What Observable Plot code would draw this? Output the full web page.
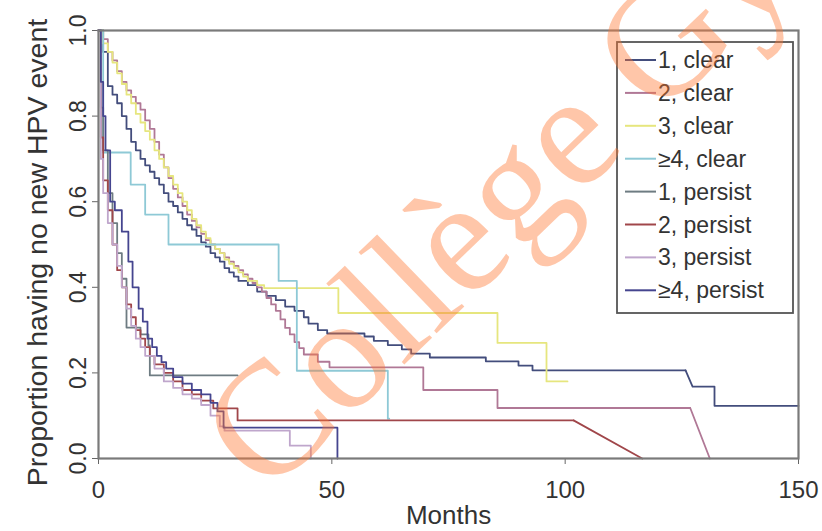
<!DOCTYPE html>
<html><head><meta charset="utf-8">
<script src="https://cdn.jsdelivr.net/npm/d3@7"></script>
<script src="https://cdn.jsdelivr.net/npm/@observablehq/plot@0.6"></script>
<style>html,body{margin:0;padding:0;background:#fff;overflow:hidden} svg{overflow:hidden;display:block}</style>
</head><body><div id="chart"></div>
<script>
// ---- data ----
const seriesNames = ["1, clear","2, clear","3, clear","≥4, clear","1, persist","2, persist","3, persist","≥4, persist"];
const seriesColors = ["#434d7c","#b07896","#e6e67e","#8ec9d6","#6e7c82","#a0464a","#bfa6cc","#45458f"];
const xTicks = [0,50,100,150];
const yTicks = [0,0.2,0.4,0.6,0.8,1.0];
const xTitle = "Months";
const yTitle = "Proportion having no new HPV event";
const watermark = "Collège Gy";

// step-after survival points [month, proportion]
const clear1 = [[0,1],[1,0.95],[2,0.87],[3,0.85],[4,0.83],[5,0.80],[6,0.77],[7,0.74],[8,0.72],[9,0.70],[10,0.685],[11,0.67],[12,0.655],[13,0.64],[14,0.62],[15,0.60],[16,0.59],[17,0.575],[18,0.56],[19,0.545],[20,0.535],[21,0.52],[22,0.505],[23,0.495],[24,0.48],[25,0.47],[26,0.46],[27,0.445],[28,0.435],[29,0.425],[30,0.415],[32,0.405],[34,0.39],[36,0.38],[38,0.37],[40,0.355],[42,0.345],[44,0.33],[45,0.315],[47,0.30],[49,0.292],[57,0.285],[59,0.275],[62,0.265],[65,0.255],[67,0.245],[71,0.236],[83,0.227],[90,0.217],[93,0.206],[125.8,0.206]];
const clear1Tail = [[125.8,0.206],[127.3,0.168],[132,0.168],[132,0.123],[150,0.123]];
const clear2 = [[0,1],[1,0.98],[2,0.95],[3,0.93],[4,0.905],[5,0.88],[6,0.86],[7,0.845],[8,0.83],[9,0.815],[10,0.79],[11,0.77],[12,0.74],[13,0.71],[14,0.68],[15,0.655],[16,0.63],[17,0.61],[18,0.59],[19,0.57],[20,0.555],[21,0.54],[22,0.525],[23,0.51],[24,0.50],[25,0.49],[26,0.48],[27,0.47],[28,0.46],[29,0.45],[30,0.44],[31,0.43],[32,0.42],[33,0.41],[34,0.40],[35,0.39],[36,0.375],[37,0.36],[38,0.345],[39,0.325],[40,0.305],[41,0.29],[42,0.272],[43,0.258],[44,0.243],[47,0.226],[49.5,0.213],[69.6,0.16],[85.5,0.118],[126.8,0.118]];
const clear2Tail = [[126.8,0.118],[131,0]];
const clear3 = [[0,1],[1,0.97],[2,0.95],[3,0.925],[4,0.90],[5,0.875],[6,0.85],[7,0.83],[8,0.805],[9,0.785],[10,0.765],[11,0.745],[12,0.72],[13,0.70],[14,0.68],[15,0.66],[16,0.64],[17,0.62],[18,0.60],[19,0.58],[20,0.56],[21,0.545],[22,0.53],[23,0.515],[24,0.50],[25,0.49],[26,0.48],[27,0.465],[28,0.455],[29,0.445],[30,0.435],[31,0.425],[32,0.415],[34,0.405],[35.5,0.398],[51.4,0.34],[85.5,0.27],[96,0.18],[100.5,0.18]];
const clear4 = [[0,1],[1,0.715],[6.9,0.64],[10,0.57],[15,0.50],[38.6,0.415],[42.5,0.205],[62,0.093],[62.3,0.093]];
const persist1 = [[0,1],[0.5,0.82],[1,0.72],[2,0.62],[3,0.55],[4,0.48],[5,0.42],[6,0.306],[9,0.29],[10.7,0.264],[11,0.194],[29.8,0.194]];
const persist2 = [[0,1],[0.5,0.75],[1,0.65],[2,0.58],[3,0.50],[4,0.44],[5,0.40],[6,0.36],[7,0.33],[8,0.30],[9,0.28],[10,0.26],[11,0.24],[12,0.22],[14,0.20],[16,0.18],[18,0.16],[20,0.15],[22,0.135],[24.6,0.117],[29.8,0.089],[101.8,0.089]];
const persist2Tail = [[101.8,0.089],[116.5,0]];
const persist3 = [[0,1],[0.5,0.70],[1,0.62],[2,0.55],[3,0.50],[4,0.45],[5,0.40],[6,0.35],[7,0.31],[8,0.28],[9,0.26],[10,0.24],[12,0.21],[14,0.18],[16,0.165],[18,0.15],[20,0.14],[22,0.125],[24,0.10],[26,0.075],[27,0.065],[41,0.03],[45.5,0]];
const persist4 = [[0,1],[0.5,0.88],[1,0.80],[1.5,0.72],[2.5,0.60],[3.5,0.58],[5,0.53],[6.4,0.46],[7.3,0.40],[8.6,0.35],[9.5,0.32],[10.5,0.28],[11.5,0.26],[12.5,0.24],[13.5,0.225],[14.5,0.21],[16,0.19],[18,0.175],[20,0.16],[22,0.15],[24,0.13],[25.5,0.11],[26.8,0.072],[51.2,0]];

const stepSeries = [clear1,clear2,clear3,clear4,persist1,persist2,persist3,persist4];
const tails = [[0,clear1Tail],[1,clear2Tail],[5,persist2Tail]];

const stepRows = stepSeries.flatMap((s,i)=>s.map(([t,v])=>({series:seriesNames[i],t,v})));
const tailRows = tails.flatMap(([i,s])=>s.map(([t,v])=>({series:seriesNames[i],t,v})));

const colorScale = {domain: seriesNames, range: seriesColors};

const svg = Plot.plot({
  width: 822, height: 531,
  marginLeft: 98, marginRight: 24, marginTop: 30, marginBottom: 73,
  style: {fontFamily: "Liberation Sans, Arial, sans-serif", color: "#333", background: "#fff"},
  x: {domain: [0,150]},
  y: {domain: [0,1]},
  color: colorScale,
  marks: [
    Plot.axisX({ticks: xTicks, tickSize: 6, tickFormat: () => "", label: null, stroke: "#666"}),
    Plot.axisY({ticks: yTicks, tickSize: 6, tickFormat: () => "", label: null, stroke: "#666"}),
    Plot.text(xTicks, {x: d=>d, frameAnchor: "bottom", dy: 32, fontSize: 24, fill: "#333", textAnchor: "middle", lineAnchor: "middle", text: d=>String(d)}),
    Plot.text(yTicks, {y: d=>d, frameAnchor: "left", dx: -20, rotate: -90, fontSize: 23, fill: "#333", textAnchor: "middle", lineAnchor: "middle", text: d=>d.toFixed(1)}),
    Plot.text([xTitle], {frameAnchor: "bottom", dy: 57, fontSize: 26, fill: "#333", textAnchor: "middle", lineAnchor: "middle", text: d=>d}),
    Plot.text([yTitle], {frameAnchor: "left", dx: -61, dy: 8, rotate: -90, fontSize: 28.5, fill: "#333", textAnchor: "middle", lineAnchor: "middle", text: d=>d}),
    Plot.line(stepRows, {x: "t", y: "v", z: "series", stroke: "series", curve: "step-after", strokeWidth: 1.8}),
    Plot.line(tailRows, {x: "t", y: "v", z: "series", stroke: "series", curve: "linear", strokeWidth: 1.8}),
    Plot.frame({stroke: "#7a7a7a", strokeWidth: 2.2})
  ]
});
document.getElementById("chart").appendChild(svg);

// legend box inside the plot
const root = d3.select(svg);
const lg = root.append("g").attr("text-anchor","start");
lg.append("rect").attr("x",617).attr("y",42).attr("width",176).attr("height",271)
  .attr("fill","#fff").attr("stroke","#555").attr("stroke-width",1.8);
seriesNames.forEach((name,i)=>{
  const yy = 60 + i*32.9;
  lg.append("line").attr("x1",625).attr("x2",656).attr("y1",yy).attr("y2",yy)
    .attr("stroke",seriesColors[i]).attr("stroke-width",2);
  lg.append("text").attr("x",658).attr("y",yy).attr("dy","0.35em").attr("text-anchor","start")
    .attr("font-size",23).attr("fill","#333").attr("font-family","Liberation Sans, Arial, sans-serif")
    .text(name);
});

// watermark
root.append("text").attr("transform","translate(266,498) rotate(-44)").attr("text-anchor","start")
  .attr("font-family","Liberation Serif, Times New Roman, serif").attr("font-size",162)
  .attr("fill","#ff7733").attr("fill-opacity",0.42).text(watermark);
</script></body></html>
